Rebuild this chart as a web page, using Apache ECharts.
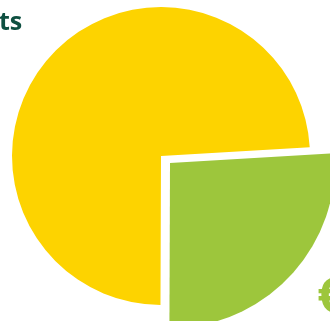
<!DOCTYPE html>
<html><head><meta charset="utf-8">
<script src="https://cdn.jsdelivr.net/npm/echarts@6/dist/echarts.min.js"></script>
<style>html,body{margin:0;padding:0;background:#fff;}#c{width:330px;height:321px;}</style>
</head><body><div id="c"></div>
<script>
const categories = ['Green share', 'Yellow share'];
const values = [26, 74];
const colors = ['#9DC63C', '#FDD300'];

const chart = echarts.init(document.getElementById('c'));
function layer(showIndex, center, radius) {
  return {
    type: 'pie', silent: true, animation: false,
    center: center, radius: radius, startAngle: 3.4, clockwise: true,
    label: {show: false}, labelLine: {show: false},
    data: categories.map((n, i) => ({
      name: n, value: values[i],
      itemStyle: {color: i === showIndex ? colors[i] : 'rgba(0,0,0,0)'}
    }))
  };
}
chart.setOption({
  backgroundColor: '#fff',
  graphic: [
    {type: 'text', left: -1, top: 10, style: {text: 'ts', fill: '#0E5041', font: 'bold 25px "Open Sans"'}},
    {type: 'text', left: 317, top: 274, style: {text: '€', fill: '#9DC63C', font: 'bold 50px "Open Sans"'}}
  ],
  series: [
    layer(1, [161, 156], 149),
    layer(0, [170, 163], 165)
  ]
});
</script></body></html>
